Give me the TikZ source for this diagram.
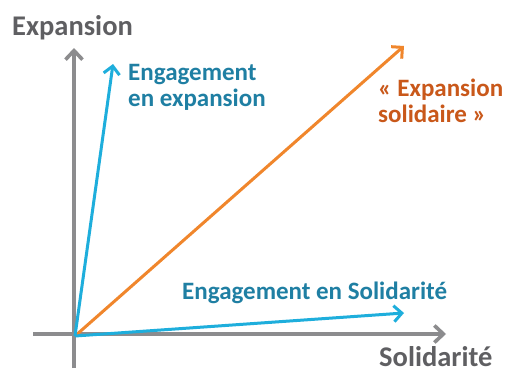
\documentclass[tikz,border=0pt]{standalone}
\usepackage{fontspec}
\setmainfont{Carlito}
\usetikzlibrary{arrows.meta}
\definecolor{axisgray}{HTML}{8C8C8E}
\definecolor{labelgray}{HTML}{5F5F62}
\definecolor{vecblue}{HTML}{1EAEDC}
\definecolor{txtblue}{HTML}{1F7FA3}
\definecolor{vecorange}{HTML}{F0862C}
\definecolor{txtorange}{HTML}{C9581A}
\tikzset{
  axisline/.style={draw=axisgray, line width=3.6pt, -{Straight Barb[length=9pt,width=17pt,line width=3.6pt]}},
  vecline/.style={line width=3pt, -{Straight Barb[length=8pt,width=16pt,line width=3pt]}},
  axislabel/.style={text=labelgray, font=\fontsize{28.5}{30}\selectfont\bfseries, inner sep=0pt, text depth=0pt, anchor=base west},
  veclabel/.style={font=\fontsize{25}{26}\selectfont\bfseries, inner sep=0pt, anchor=base west, align=left}
}
\begin{document}
\begin{tikzpicture}[x=1pt,y=-1pt]
\useasboundingbox (0,0) rectangle (507,372);
\fill[white] (0,0) rectangle (507,372);
\coordinate (hstart) at (33,334);
\coordinate (hend) at (446,334);
\coordinate (vstart) at (74,368);
\coordinate (vend) at (74,48);
\coordinate (o) at (75,336);
\coordinate (tipE) at (113,64);
\coordinate (tipS) at (404,313);
\coordinate (tipX) at (404,46);
\draw[axisline] (hstart) -- (hend);
\draw[axisline] (vstart) -- (vend);
\draw[vecline, draw=vecorange] (o) -- (tipX);
\draw[vecline, draw=vecblue] (o) -- (tipE);
\draw[vecline, draw=vecblue] (o) -- (tipS);
\node[axislabel] (lexp) at (12,35) {Expansion};
\node[axislabel] (lsol) at (379,366) {Solidarité};
\node[veclabel, text=txtblue] (leng) at (128,106) {Engagement\\en expansion};
\node[veclabel, text=txtorange] (lxs) at (378,122) {« Expansion\\solidaire »};
\node[veclabel, text=txtblue] (lens) at (182,299) {Engagement en Solidarité};
\end{tikzpicture}
\end{document}
